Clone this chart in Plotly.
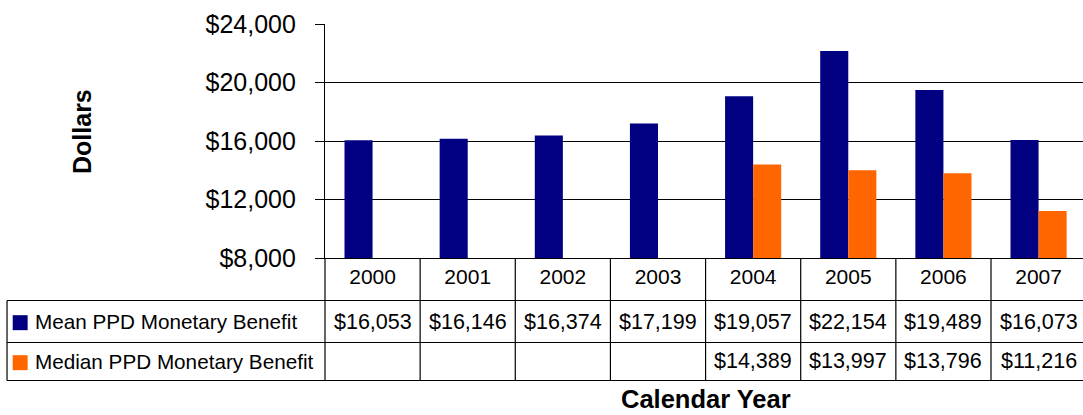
import plotly.graph_objects as go

years = ["2000", "2001", "2002", "2003", "2004", "2005", "2006", "2007"]
mean_ppd = [16053, 16146, 16374, 17199, 19057, 22154, 19489, 16073]
median_ppd = [None, None, None, None, 14389, 13997, 13796, 11216]
series_names = ["Mean PPD Monetary Benefit", "Median PPD Monetary Benefit"]
series_colors = ["#000080", "#FF6600"]
y_ticks = [8000, 12000, 16000, 20000, 24000]

FONT = "Liberation Sans, Arial, sans-serif"

# table row edges / centres in paper units (plot area is 234 px tall)
row_lines = [-0.1816, -0.3611, -0.5235]
row_mid = [-0.2714, -0.4423]
left_edge = -0.4195

fig = go.Figure()
for name, vals, col in zip(series_names, [mean_ppd, median_ppd], series_colors):
    fig.add_trace(go.Bar(x=years, y=vals, name=name, marker_color=col,
                         marker_line_width=0, showlegend=False))

shapes = []
# horizontal table lines
for yl in row_lines:
    shapes.append(dict(type="line", xref="paper", yref="paper", x0=left_edge, x1=1.01,
                       y0=yl, y1=yl, line=dict(color="black", width=1.2)))
# left border of legend column
shapes.append(dict(type="line", xref="paper", yref="paper", x0=left_edge, x1=left_edge,
                   y0=row_lines[0], y1=row_lines[-1], line=dict(color="black", width=1.2)))
# left border of first data column (continues y axis line)
shapes.append(dict(type="line", xref="paper", yref="paper", x0=0, x1=0,
                   y0=0, y1=row_lines[-1], line=dict(color="black", width=1.2)))
# column dividers between years
for i in range(len(years) - 1):
    shapes.append(dict(type="line", xref="x", yref="paper", x0=i + 0.5, x1=i + 0.5,
                       y0=0, y1=row_lines[-1], line=dict(color="black", width=1.2)))

annotations = []
for r, (name, vals, col) in enumerate(zip(series_names, [mean_ppd, median_ppd], series_colors)):
    # legend key square
    shapes.append(dict(type="rect", xref="paper", yref="paper",
                       x0=-0.412, x1=-0.3923, y0=row_mid[r] - 0.037, y1=row_mid[r] + 0.027,
                       fillcolor=col, line_width=0))
    annotations.append(dict(xref="paper", yref="paper", x=-0.3848, y=row_mid[r],
                            text=name, showarrow=False, xanchor="left", yanchor="middle",
                            font=dict(size=20.7, color="black", family=FONT)))
    for i, v in enumerate(vals):
        if v is None:
            continue
        annotations.append(dict(xref="x", yref="paper", x=i, y=row_mid[r],
                                text=f"${v:,}", showarrow=False, yanchor="middle",
                                font=dict(size=21.5, color="black", family=FONT)))

annotations.append(dict(xref="paper", yref="paper", x=-0.3206, y=0.5427, text="<b>Dollars</b>",
                        textangle=-90, showarrow=False, xanchor="center", yanchor="middle",
                        font=dict(size=25, color="black", family=FONT)))
annotations.append(dict(xref="paper", yref="paper", x=0.5026, y=-0.603, text="<b>Calendar Year</b>",
                        showarrow=False, xanchor="center", yanchor="middle",
                        font=dict(size=25.5, color="black", family=FONT)))

fig.update_layout(
    width=1083, height=415,
    margin=dict(l=325, r=0, t=24, b=157),
    paper_bgcolor="white", plot_bgcolor="white",
    barmode="group", bargap=0.41, bargroupgap=0,
    font=dict(family=FONT, color="black"),
    shapes=shapes, annotations=annotations,
    xaxis=dict(type="category", range=[-0.5, 7.467], showgrid=False, ticks="",
               showline=True, linecolor="black", linewidth=1.2,
               tickfont=dict(size=21, color="black", family=FONT), ticklabelstandoff=0),
    yaxis=dict(range=[8000, 24000], tickvals=y_ticks,
               ticktext=[f"${t:,}" for t in y_ticks],
               showgrid=True, gridcolor="black", gridwidth=1.2,
               showline=True, linecolor="black", linewidth=1.2,
               ticks="outside", ticklen=9, tickcolor="black", tickwidth=1.2,
               ticklabelstandoff=14, zeroline=False,
               tickfont=dict(size=25, color="black", family=FONT)),
)

# drop the page's default body margin so the figure fills the window exactly
fig.write_html("out.html", config={"displayModeBar": False},
               post_script="document.body.style.margin='0';document.body.style.overflow='hidden';")
